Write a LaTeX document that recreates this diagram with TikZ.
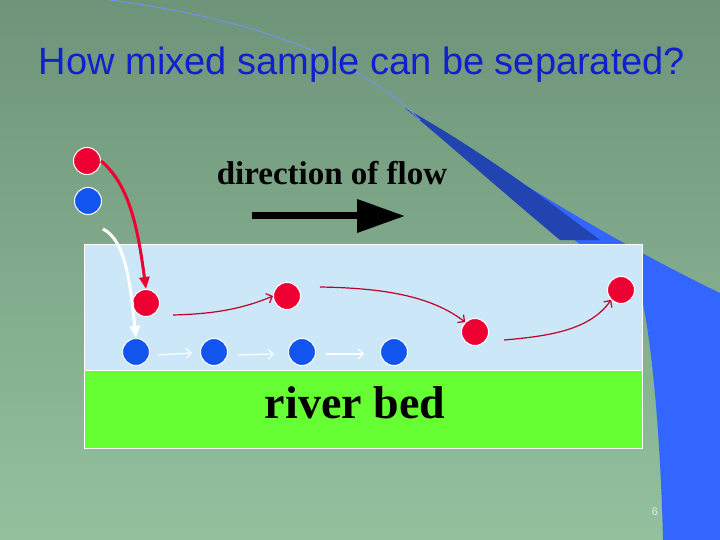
\documentclass[tikz,border=0pt]{standalone}
\usepackage{fontspec}
\usepackage{tikz}
\usetikzlibrary{arrows.meta}
\newfontfamily\sansfont{Liberation Sans}
\setmainfont{Liberation Serif}
\definecolor{bgtop}{HTML}{6E9479}
\definecolor{bgbot}{HTML}{93C19E}
\definecolor{swoosh}{HTML}{3366FF}
\definecolor{swooshdark}{HTML}{2244B0}
\definecolor{water}{HTML}{CCE8F8}
\definecolor{bed}{HTML}{66FF33}
\definecolor{redball}{HTML}{EE0033}
\definecolor{blueball}{HTML}{1155EE}
\definecolor{titleblue}{HTML}{1020CC}
\tikzset{
  ball/.style={circle,draw=white,line width=1pt,minimum size=27pt,inner sep=0pt},
  red ball/.style={ball,fill=redball},
  blue ball/.style={ball,fill=blueball},
  red move/.style={draw=redball!80!black,line width=1.2pt,-{Straight Barb[length=5pt]}},
  white move/.style={draw=white,line width=1.2pt,-{Straight Barb[length=5pt]}}
}
\begin{document}
\begin{tikzpicture}[x=1pt,y=-1pt]
    % Fundo
    \useasboundingbox (0,0) rectangle (720,540);
    \shade[top color=bgtop,bottom color=bgbot] (0,0) rectangle (720,540);
    % Faixa azul
    \fill[swoosh] (405,108) .. controls (500,170) and (600,235) .. (720,293)
        -- (720,540) -- (663,540)
        .. controls (660,420) and (650,330) .. (640,290)
        .. controls (560,230) and (460,150) .. (405,108) -- cycle;
    \fill[swooshdark] (405,108) .. controls (480,150) and (540,195) .. (600,240)
        -- (560,240) .. controls (500,190) and (450,145) .. (405,108) -- cycle;
    \draw[swoosh!70!white,line width=0.8pt] (110,0) .. controls (260,20) and (360,60) .. (420,120);
    % Titulo
    \node[font=\sansfont\fontsize{38}{42}\selectfont,text=titleblue] (title) at (362,65) {How mixed sample can be separated?};
    % Rio e leito
    \draw[white,fill=water,line width=1pt] (84,244) rectangle (642,370);
    \draw[white,fill=bed,line width=1pt] (84,370) rectangle (642,448);
    \node[font=\bfseries\fontsize{46}{50}\selectfont] (bedlabel) at (355,403) {river bed};
    % Direcao do fluxo
    \node[font=\bfseries\fontsize{33}{36}\selectfont] (flowlabel) at (332,173) {direction of flow};
    \coordinate (flowA) at (252,216);
    \coordinate (flowB) at (405,216);
    \draw[line width=7pt,-{Triangle[length=48pt,width=32pt]}] (flowA) -- (flowB);
    % Particulas
    \node[red ball] (r0) at (87,161) {};
    \node[blue ball] (b0) at (88,201) {};
    \node[red ball] (r1) at (146,303) {};
    \node[red ball] (r2) at (287,296) {};
    \node[red ball] (r3) at (475,332) {};
    \node[red ball] (r4) at (621,290) {};
    \node[blue ball] (b1) at (136,352) {};
    \node[blue ball] (b2) at (214,352) {};
    \node[blue ball] (b3) at (302,352) {};
    \node[blue ball] (b4) at (394,352) {};
    % Trajetorias
    \draw[redball,line width=3pt,-{Triangle[length=12pt,width=10pt]}] (r0.east) .. controls (130,185) and (138,230) .. (r1.north);
    \draw[white,line width=3pt,-{Triangle[length=12pt,width=10pt]}] (b0.south east) ++(5,18) .. controls (125,240) and (130,280) .. (b1.north);
    \draw[red move] (173,315) .. controls (210,314) and (240,310) .. (r2.west);
    \draw[red move] (320,287) .. controls (380,288) and (430,295) .. (r3.north west);
    \draw[red move] (504,340) .. controls (550,336) and (590,330) .. (r4.south west);
    \draw[white move] (b1) ++(22,3) -- ++(34,-2);
    \draw[white move] (b2) ++(24,3) -- ++(36,-1);
    \draw[white move] (b3) ++(24,2) -- ++(38,0);
    % Numero da pagina
    \node[font=\sansfont\fontsize{11}{12}\selectfont,text=white!85!gray] (page) at (655,512) {6};
\end{tikzpicture}
\end{document}
